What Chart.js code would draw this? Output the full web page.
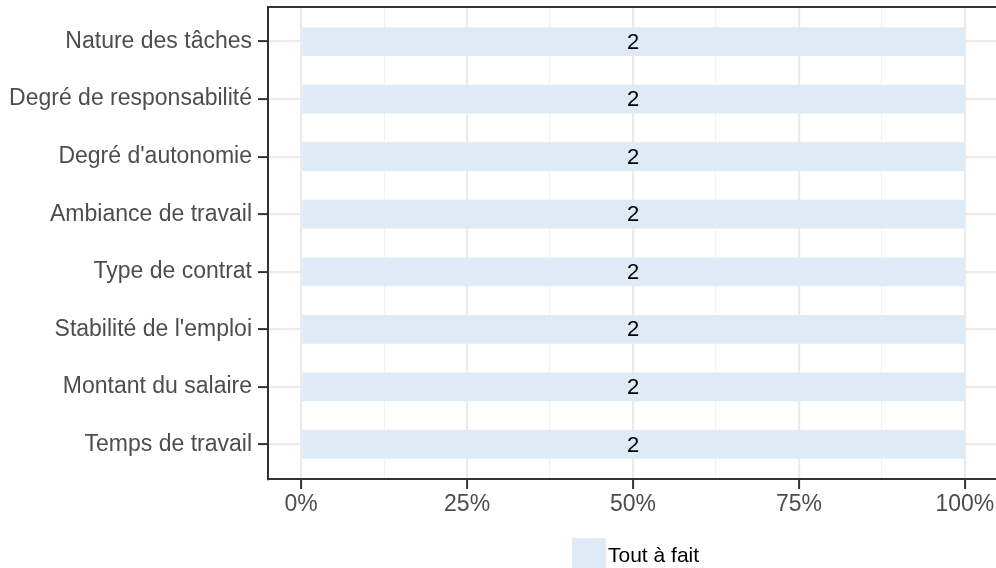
<!DOCTYPE html>
<html>
<head>
<meta charset="utf-8">
<script src="https://cdn.jsdelivr.net/npm/chart.js@4"></script>
<style>
    html, body { margin: 0; padding: 0; background: #fff; overflow: hidden; }
    #wrap { width: 996px; height: 568px; overflow: hidden; }
    canvas { display: block; }
</style>
</head>
<body>
<div id="wrap"><canvas id="chart" width="1000" height="568"></canvas></div>
<script>
// Data
const categories = [
    'Nature des tâches',
    'Degré de responsabilité',
    "Degré d'autonomie",
    'Ambiance de travail',
    'Type de contrat',
    "Stabilité de l'emploi",
    'Montant du salaire',
    'Temps de travail'
];
const seriesName = 'Tout à fait';
const counts = [2, 2, 2, 2, 2, 2, 2, 2];
const xTicks = [0, 0.125, 0.25, 0.375, 0.5, 0.625, 0.75, 0.875, 1];

const FONT = "'Liberation Sans', Arial, Helvetica, sans-serif";
const barColor = '#deebf7';

// share of each answer in its category (only one answer level here)
const totals = counts.map(c => c);
const shares = counts.map((c, i) => c / totals[i]);

const points = shares.map((s, i) => ({ x: s, y: i }));

// Draws the count inside each bar, the top border and the legend
const extras = {
    id: 'extras',
    afterDatasetsDraw(chart) {
        const ctx = chart.ctx;
        const meta = chart.getDatasetMeta(0);
        const xs = chart.scales.x;
        ctx.save();
        ctx.fillStyle = '#000';
        ctx.font = '22px ' + FONT;
        ctx.textAlign = 'center';
        ctx.textBaseline = 'middle';
        meta.data.forEach((bar, i) => {
            const mid = xs.getPixelForValue(shares[i] / 2);
            ctx.fillText(String(counts[i]), mid, bar.y + 1);
        });
        ctx.restore();
    },
    afterDraw(chart) {
        const ctx = chart.ctx;
        const a = chart.chartArea;
        ctx.save();
        ctx.strokeStyle = '#333333';
        ctx.lineWidth = 2;
        ctx.beginPath();
        ctx.moveTo(a.left - 1, a.top);
        ctx.lineTo(a.right + 2, a.top);
        ctx.stroke();

        // legend
        ctx.fillStyle = barColor;
        ctx.fillRect(572, 538, 34, 34);
        ctx.fillStyle = '#000';
        ctx.font = '21px ' + FONT;
        ctx.textAlign = 'left';
        ctx.textBaseline = 'middle';
        ctx.fillText(seriesName, 608, 556);
        ctx.restore();
    }
};

const isMajor = v => Math.abs(v * 4 - Math.round(v * 4)) < 1e-6;

new Chart(document.getElementById('chart'), {
    type: 'bar',
    data: {
        datasets: [{
            label: seriesName,
            data: points,
            backgroundColor: barColor,
            borderWidth: 0,
            categoryPercentage: 1,
            barPercentage: 0.5
        }]
    },
    plugins: [extras],
    options: {
        responsive: false,
        animation: false,
        devicePixelRatio: 1,
        indexAxis: 'y',
        layout: { padding: { top: 7, right: 2, left: 0, bottom: 0 } },
        plugins: {
            legend: { display: false },
            tooltip: { enabled: false }
        },
        scales: {
            x: {
                type: 'linear',
                min: -0.05,
                max: 1.05,
                afterBuildTicks: scale => {
                    scale.ticks = xTicks.map(v => ({ value: v }));
                },
                afterFit: scale => { scale.height = 89; },
                border: { display: true, color: '#333333', width: 2 },
                grid: {
                    color: c => isMajor(c.tick.value) ? '#ebebeb' : '#f2f2f2',
                    lineWidth: c => isMajor(c.tick.value) ? 2.2 : 1.1,
                    tickColor: c => isMajor(c.tick.value) ? '#333333' : 'rgba(0,0,0,0)',
                    tickWidth: 2,
                    tickLength: 10
                },
                ticks: {
                    autoSkip: false,
                    maxRotation: 0,
                    padding: 2,
                    color: '#4d4d4d',
                    font: { family: FONT, size: 23 },
                    callback: v => isMajor(v) ? Math.round(v * 100) + '%' : ''
                }
            },
            y: {
                type: 'linear',
                reverse: true,
                offset: false,
                min: -0.6,
                max: 7.6,
                afterBuildTicks: scale => {
                    scale.ticks = categories.map((_, i) => ({ value: i }));
                },
                afterFit: scale => {
                    scale.width = 268;
                    scale.paddingTop = 0;
                    scale.paddingBottom = 0;
                },
                border: { display: true, color: '#333333', width: 2 },
                grid: {
                    offset: false,
                    color: '#ebebeb',
                    lineWidth: 2.2,
                    tickColor: '#333333',
                    tickWidth: 2,
                    tickLength: 10
                },
                ticks: {
                    autoSkip: false,
                    padding: 6,
                    color: '#4d4d4d',
                    font: { family: FONT, size: 23 },
                    callback: v => categories[v] ?? ''
                }
            }
        }
    }
});
</script>
</body>
</html>
